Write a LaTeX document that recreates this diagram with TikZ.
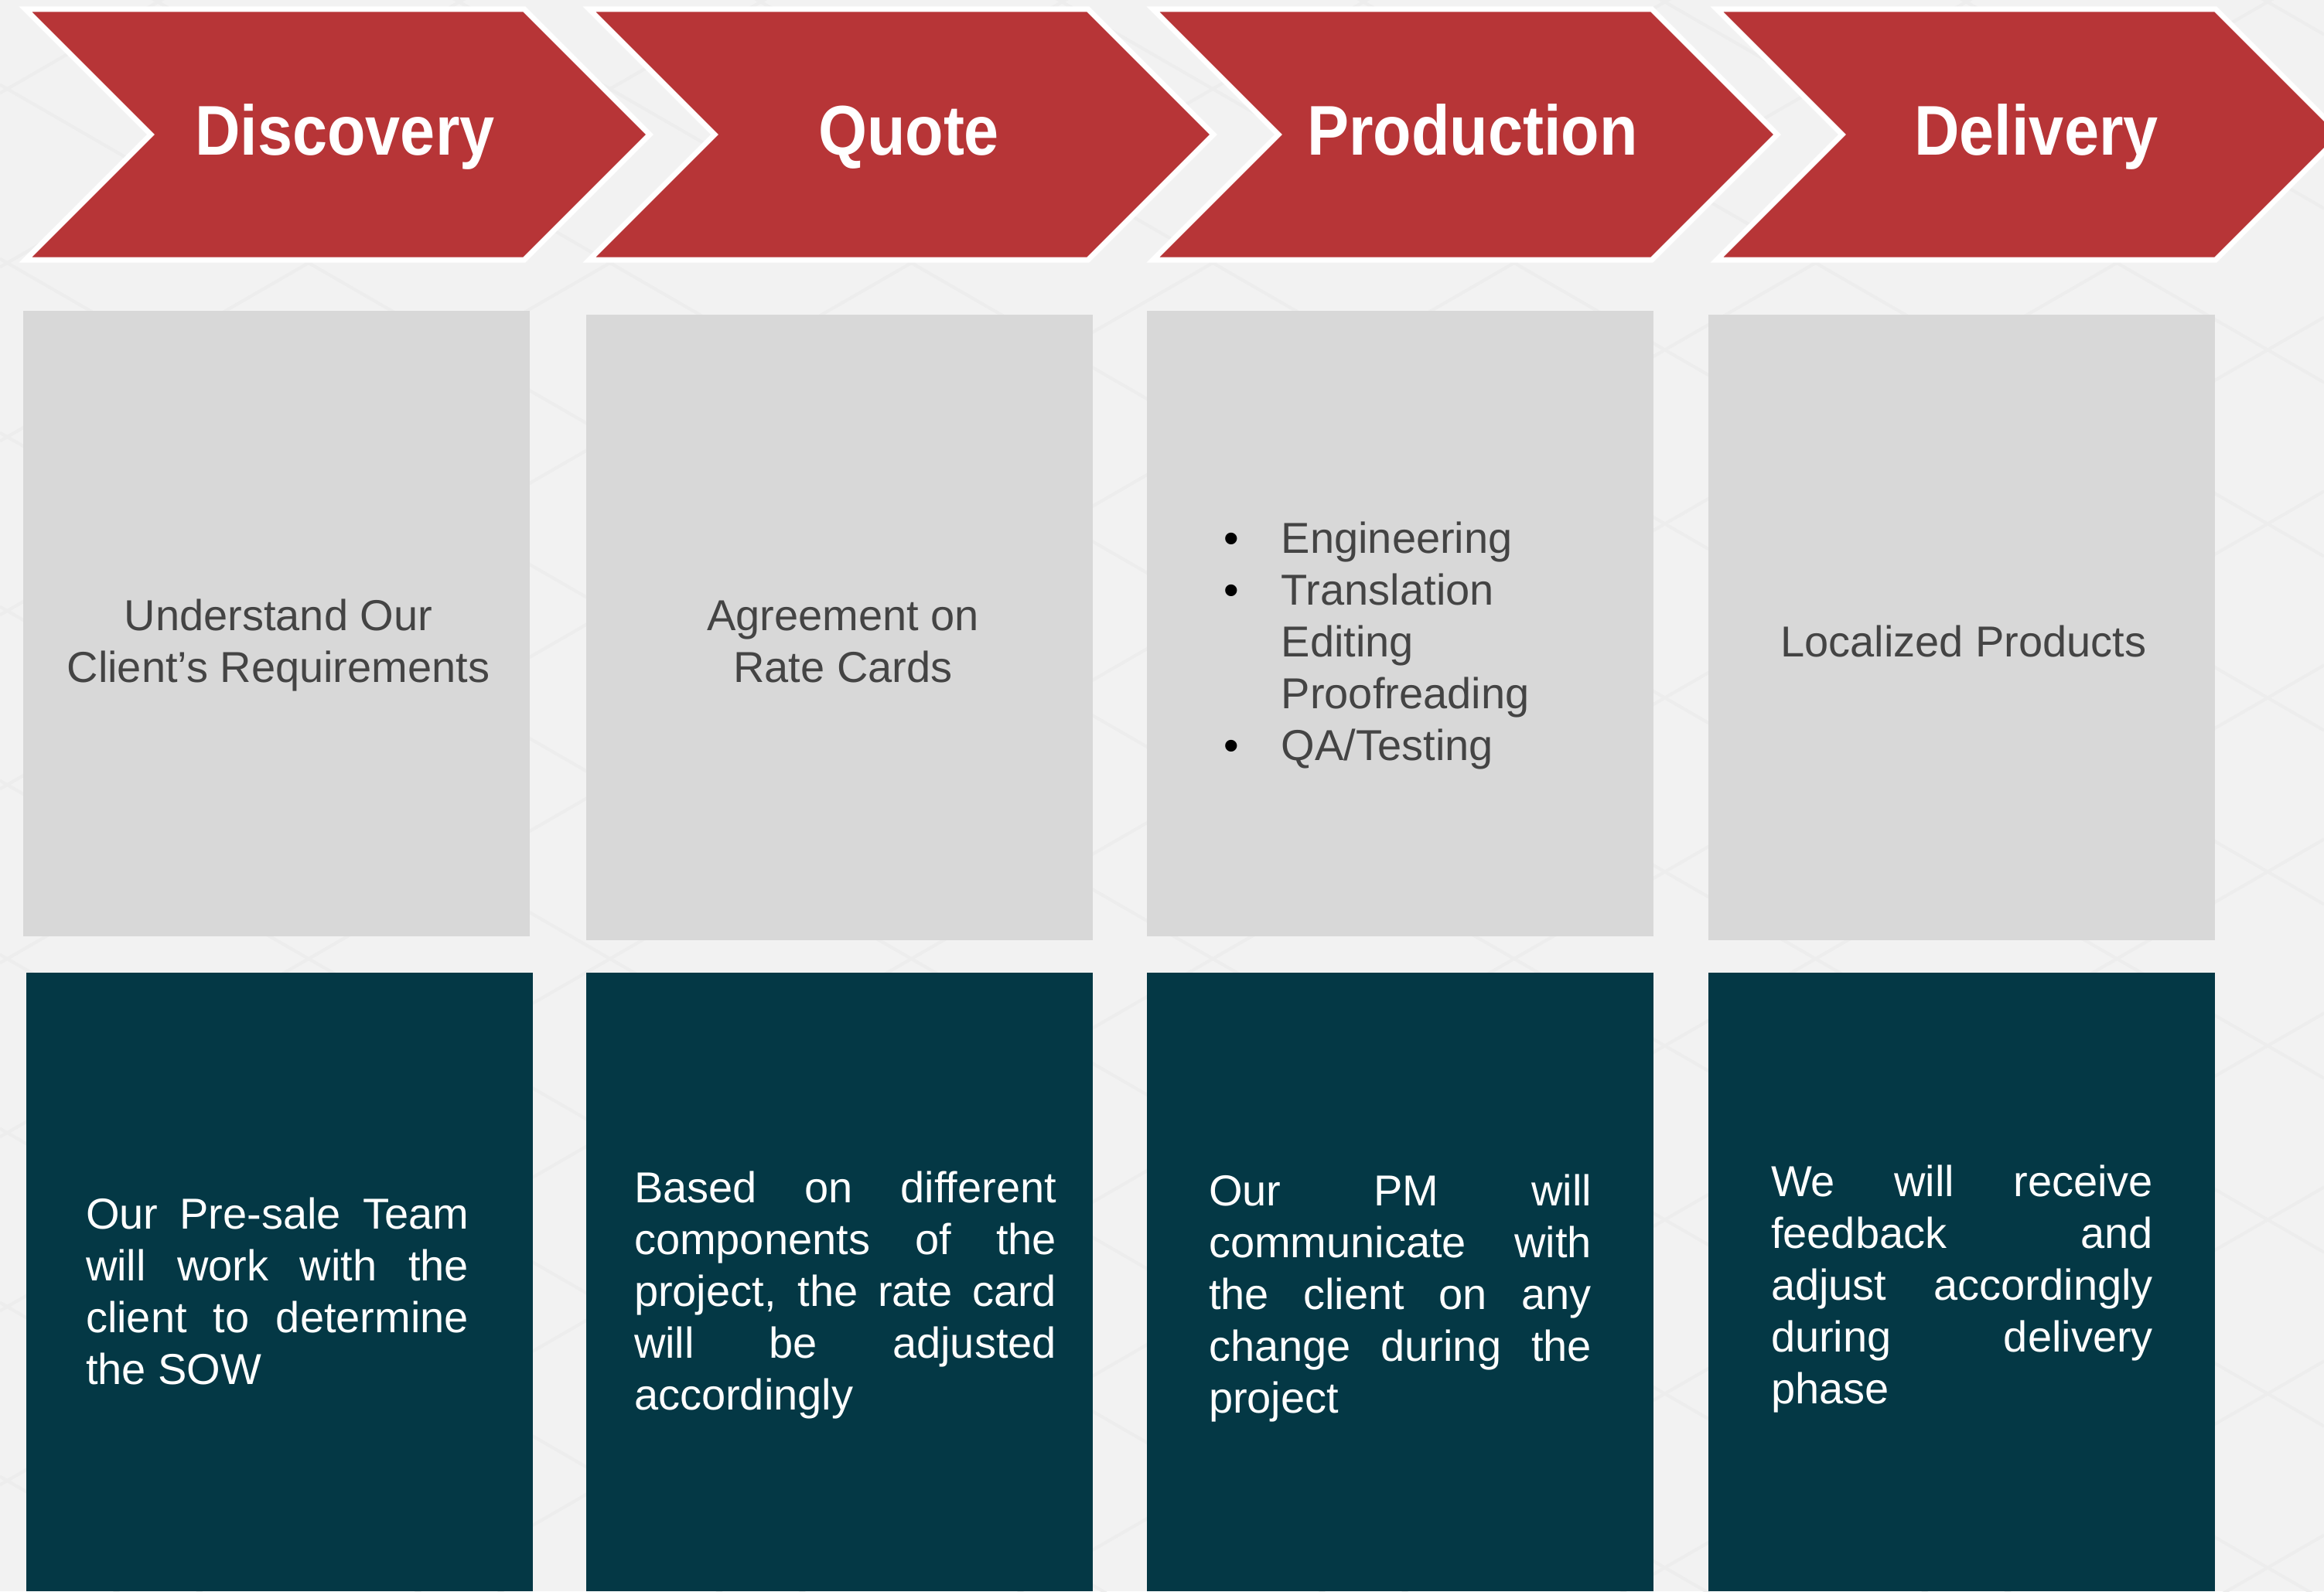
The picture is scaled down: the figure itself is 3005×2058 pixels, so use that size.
\documentclass[tikz,border=0pt]{standalone}
\usepackage{fontspec}
\setmainfont{Liberation Sans}
\newfontfamily\headfont[FakeStretch=0.89]{Liberation Sans}
\definecolor{chevred}{HTML}{B73537}
\definecolor{boxgray}{HTML}{D8D8D8}
\definecolor{boxteal}{HTML}{043845}
\definecolor{bggray}{HTML}{F2F2F2}
\definecolor{bgline}{HTML}{EDEDED}
\definecolor{textgray}{HTML}{444444}
\tolerance=10000 \hbadness=10000 \hyphenpenalty=10000 \parindent=0pt
\tikzset{
  chevron/.style={fill=chevred, draw=white, line width=7pt, line join=miter},
  title/.style={font=\headfont\bfseries\fontsize{91}{100}\selectfont, text=white, anchor=base, inner sep=0pt},
  graybox/.style={fill=boxgray, anchor=north west, inner sep=0pt, outer sep=0pt, minimum width=655pt, minimum height=809pt},
  tealbox/.style={fill=boxteal, anchor=north west, inner sep=0pt, outer sep=0pt, minimum width=655pt, minimum height=800pt},
  graytext/.style={font=\fontsize{56}{67}\selectfont, text=textgray, align=center, inner sep=0pt},
  listtext/.style={font=\fontsize{56}{67}\selectfont, text=textgray, inner sep=0pt},
  bodytext/.style={font=\fontsize{56}{67}\selectfont, text=white, inner sep=0pt, text width=#1, align=justify},
}
\begin{document}
\begin{tikzpicture}[x=1pt, y=-1pt]
        \clip (0,0) rectangle (3005,2058);
        \fill[bggray] (0,0) rectangle (3005,2058);
        \scoped[line width=4pt]{
                \foreach \k in {-9,...,9} \draw[bgline] (0,{109.6+225*\k}) -- (3005,{109.6+225*\k+1735});
                \foreach \k in {-3,...,15} \draw[bgline] (0,{570.4+225*\k}) -- (3005,{570.4+225*\k-1735});
            };

        \foreach \name/\label [count=\i from 0] in {disc/Discovery, quote/Quote, prod/Production, deliv/Delivery} {
                \path[chevron] ({33+729*\i},12) -- ++(645,0) -- ++(162,162) -- ++(-162,162) -- ++(-645,0) -- ++(162,-162) -- cycle;
                \node[title] (\name) at ({446+729*\i},200) {\label};
            }

        \node[graybox] (gdisc) at (30,402) {};
        \node[graybox] (gquote) at (758,407) {};
        \node[graybox] (gprod) at (1483,402) {};
        \node[graybox] (gdeliv) at (2209,407) {};

        \node[tealbox] (tdisc) at (34,1258) {};
        \node[tealbox] (tquote) at (758,1258) {};
        \node[tealbox] (tprod) at (1483,1258) {};
        \node[tealbox] (tdeliv) at (2209,1258) {};

        \node[graytext] (need) at (360,835.6) {\strut Understand Our\\Client’s Requirements\strut};
        \node[graytext] (rate) at (1090,835.6) {\strut Agreement on\\Rate Cards\strut};
        \node[listtext, anchor=west] (steps) at (1582,836) {\begin{tabular}{@{}l@{\hspace{55pt}}l@{}}
                \textcolor{black}{\textbullet} & Engineering\\
                \textcolor{black}{\textbullet} & Translation\\
                & Editing\\
                & Proofreading\\
                \textcolor{black}{\textbullet} & QA/Testing
            \end{tabular}};
        \node[graytext] (product) at (2539,835.6) {\strut Localized Products\strut};

        \node[bodytext=495pt] (sow) at (358.5,1676.6) {\strut Our Pre-sale Team\linebreak will work with the\linebreak client to determine\linebreak the SOW\strut};
        \node[bodytext=546pt] (card) at (1093,1676) {\strut Based on different\linebreak components of the\linebreak project, the rate card\linebreak will be adjusted\linebreak accordingly\strut};
        \node[bodytext=495pt] (pm) at (1810.5,1680) {\strut Our PM will\linebreak communicate with\linebreak the client on any\linebreak change during the\linebreak project\strut};
        \node[bodytext=494pt] (feedback) at (2537,1668) {\strut We will receive\linebreak feedback and\linebreak adjust accordingly\linebreak during delivery\linebreak phase\strut};
    \end{tikzpicture}
\end{document}
